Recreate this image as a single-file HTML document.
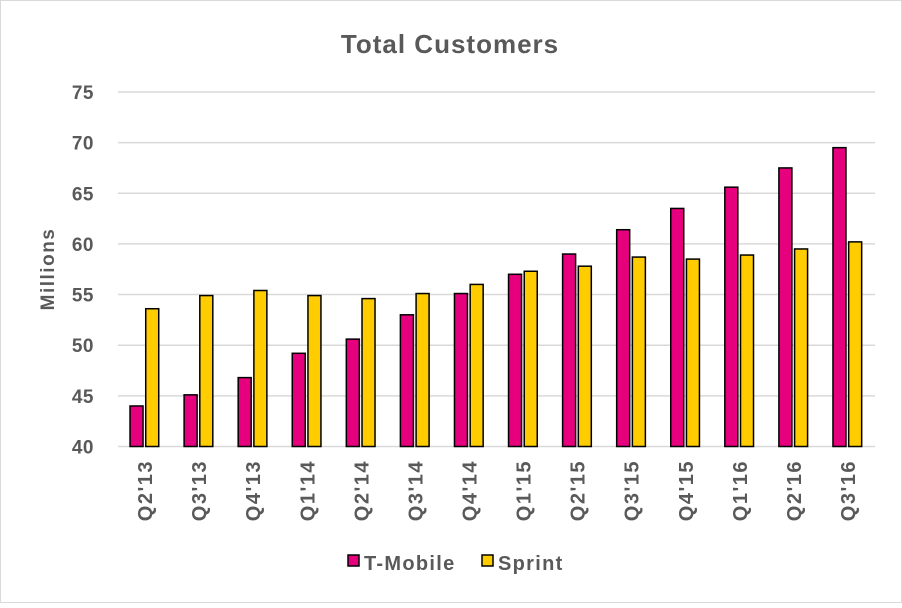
<!DOCTYPE html>
<html><head><meta charset="utf-8"><style>
body{margin:0;background:#fff;}
svg text{font-family:"Liberation Sans",sans-serif;font-weight:bold;fill:#595959;}
</style></head><body>
<svg width="902" height="603">
<rect x="0.5" y="0.5" width="901" height="602" fill="#fff" stroke="#d9d9d9"/>
<text x="450" y="53" font-size="26" letter-spacing="1" text-anchor="middle">Total Customers</text>
<text transform="translate(54,269) rotate(-90)" font-size="19" letter-spacing="1.5" text-anchor="middle">Millions</text>
<g id="grid"></g><g id="bars"></g><g id="xl"></g>
<g>
<rect x="348" y="555" width="11" height="11" fill="#E6007E" stroke="#000" stroke-width="1.5"/>
<text x="364" y="570" font-size="20" letter-spacing="1.3">T-Mobile</text>
<rect x="482" y="555" width="11" height="11" fill="#FFCC00" stroke="#000" stroke-width="1.5"/>
<text x="498" y="570" font-size="20" letter-spacing="1.3">Sprint</text>
</g>
</svg>
<script>
const categories=["Q2'13","Q3'13","Q4'13","Q1'14","Q2'14","Q3'14","Q4'14","Q1'15","Q2'15","Q3'15","Q4'15","Q1'16","Q2'16","Q3'16"];
const tmobile=[44.0,45.1,46.8,49.2,50.6,53.0,55.1,57.0,59.0,61.4,63.5,65.6,67.5,69.5];
const sprint=[53.6,54.9,55.4,54.9,54.6,55.1,56.0,57.3,57.8,58.7,58.5,58.9,59.5,60.2];
const yTicks=[40,45,50,55,60,65,70,75];
const NS="http://www.w3.org/2000/svg";
const L=118,R=875,Y0=446.5,K=10.13;
const y=v=>Y0-(v-40)*K;
const cw=(R-L)/categories.length;
function mk(t,a,p){const e=document.createElementNS(NS,t);for(const k in a)e.setAttribute(k,a[k]);p.appendChild(e);return e;}
const g=document.getElementById('grid');
yTicks.forEach(t=>{
 const l=mk('line',{x1:L,x2:R,y1:y(t),y2:y(t),stroke:'#d9d9d9','stroke-width':1.5},g);
 
 
 const tx=mk('text',{x:94,y:y(t)+7,'font-size':19,'letter-spacing':0.5,'text-anchor':'end'},g);tx.textContent=t;
 
 
});
const b=document.getElementById('bars'),xl=document.getElementById('xl');
categories.forEach((c,i)=>{
 const cx=L+cw*(i+0.5);
 const r1=mk('rect',{x:cx-15,y:y(tmobile[i]),width:13,height:Y0-y(tmobile[i]),fill:'#E6007E',stroke:'#000','stroke-width':1.5},b);
 
 
 const r2=mk('rect',{x:cx+0.7,y:y(sprint[i]),width:13,height:Y0-y(sprint[i]),fill:'#FFCC00',stroke:'#000','stroke-width':1.5},b);
 
 
 const t=mk('text',{transform:`translate(${cx+7},460) rotate(-90)`,'font-size':20,'letter-spacing':1.5,'text-anchor':'end'},xl);t.textContent=c;
 
 
});
</script>
</body></html>
